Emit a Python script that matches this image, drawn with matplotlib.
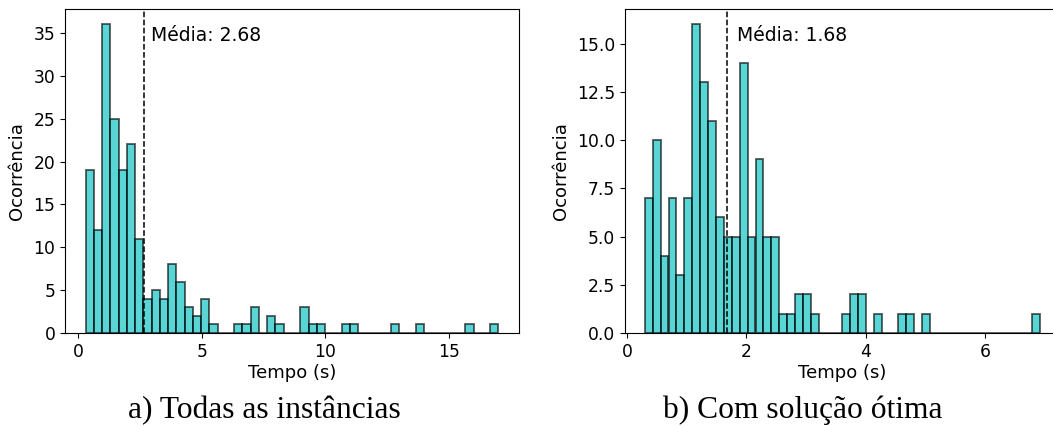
import numpy as np
import matplotlib
matplotlib.use('Agg')
import matplotlib.pyplot as plt
from matplotlib.ticker import MultipleLocator, FormatStrFormatter

plt.rcParams['font.family'] = ['DejaVu Sans']
plt.rcParams['patch.linewidth'] = 1.3

# histogram counts (50 bins each)
counts_a = [19, 12, 36, 25, 19, 22, 11, 4, 5, 4,
            8, 6, 3, 2, 4, 1, 0, 0, 1, 1,
            3, 0, 2, 1, 0, 0, 3, 1, 1, 0,
            0, 1, 1, 0, 0, 0, 0, 1, 0, 0,
            1, 0, 0, 0, 0, 0, 1, 0, 0, 1]
range_a = (0.31, 17.0)
mean_a = 2.68

counts_b = [7, 10, 4, 7, 3, 7, 16, 13, 11, 6,
            5, 5, 14, 5, 9, 5, 5, 1, 1, 2,
            2, 1, 0, 0, 0, 1, 2, 2, 0, 1,
            0, 0, 1, 1, 0, 1, 0, 0, 0, 0,
            0, 0, 0, 0, 0, 0, 0, 0, 0, 1]
range_b = (0.30, 6.92)
mean_b = 1.68

captions = ['a) Todas as instâncias', 'b) Com solução ótima']

W, H = 1053, 426
fig = plt.figure(figsize=(W / 100, H / 100), dpi=100)

ax1 = fig.add_axes([65 / W, 93 / H, 454 / W, 324 / H])
ax2 = fig.add_axes([625 / W, 93 / H, 435 / W, 324 / H])


def draw(ax, counts, rng, mean):
    edges = np.linspace(rng[0], rng[1], len(counts) + 1)
    ax.hist(edges[:-1], bins=edges, weights=counts, color='c',
            edgecolor='k', alpha=0.65)
    ax.axvline(mean, color='k', linestyle='dashed', linewidth=1.1)
    ymin, ymax = ax.get_ylim()
    ax.text(mean * 1.1, ymax * 0.9, 'Média: {:.2f}'.format(mean), fontsize=13.5)
    ax.set_xlabel('Tempo (s)', fontsize=13, labelpad=2)
    ax.set_ylabel('Ocorrência', fontsize=13, labelpad=5)
    ax.tick_params(labelsize=12.3)


draw(ax1, counts_a, range_a, mean_a)
draw(ax2, counts_b, range_b, mean_b)

ax1.xaxis.set_major_locator(MultipleLocator(5))
ax1.yaxis.set_major_locator(MultipleLocator(5))
ax2.xaxis.set_major_locator(MultipleLocator(2))
ax2.yaxis.set_major_locator(MultipleLocator(2.5))
ax2.yaxis.set_major_formatter(FormatStrFormatter('%.1f'))

fig.text(264 / W, 1 - 418 / H, captions[0], fontsize=22.7,
         family='Liberation Serif', ha='center', va='baseline')
fig.text(803 / W, 1 - 418 / H, captions[1], fontsize=22.7,
         family='Liberation Serif', ha='center', va='baseline')

fig.savefig('out.png', dpi=100)
